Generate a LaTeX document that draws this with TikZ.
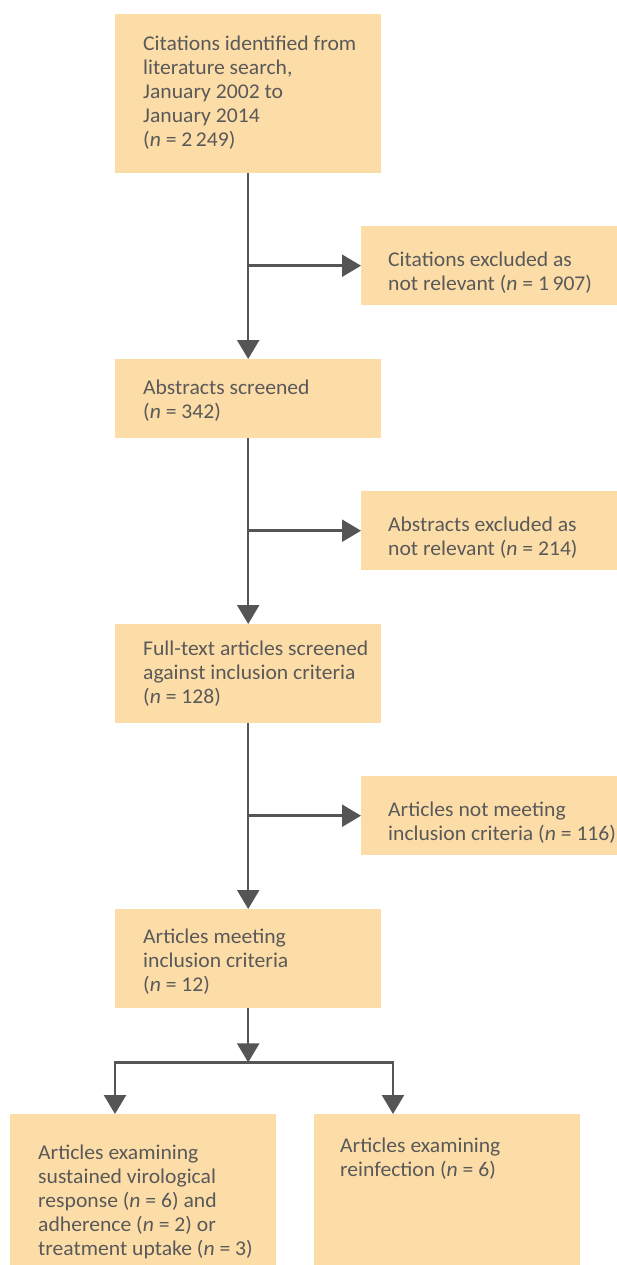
\documentclass[tikz,border=0pt]{standalone}
\usepackage{fontspec}
\setmainfont{Carlito}[FakeStretch=1.03]
\usetikzlibrary{arrows.meta}
\definecolor{boxfill}{RGB}{253,221,167}
\definecolor{arrowc}{RGB}{85,85,85}
\definecolor{txt}{RGB}{89,89,89}
\newcommand{\fl}{\rule{0pt}{16pt}}
\newcommand{\nn}{\textit{n}}
\begin{document}
\begin{tikzpicture}[x=1pt,y=-1pt,
  box/.style={fill=boxfill, draw=none, inner sep=0pt, anchor=north west},
  lbl/.style={anchor=north west, inner sep=0pt, align=left, text=txt, font=\fontsize{21}{24}\selectfont},
  link/.style={draw=arrowc, line width=2.5pt},
  arr/.style={link, -{Triangle[width=22pt,length=19pt]}}]
\useasboundingbox (0,0) rectangle (617,1265);
% boxes
\node[box, minimum width=266pt, minimum height=159pt] (top) at (115,14) {};
\node[box, minimum width=256pt, minimum height=79pt] (ex1) at (361,226) {};
\node[box, minimum width=266pt, minimum height=79pt] (abs) at (115,359) {};
\node[box, minimum width=256pt, minimum height=79pt] (ex2) at (361,491) {};
\node[box, minimum width=266pt, minimum height=99pt] (full) at (115,624) {};
\node[box, minimum width=256pt, minimum height=79pt] (ex3) at (361,776) {};
\node[box, minimum width=266pt, minimum height=99pt] (meet) at (115,909) {};
\node[box, minimum width=266pt, minimum height=151pt] (bl) at (10,1114) {};
\node[box, minimum width=266pt, minimum height=151pt] (br) at (314,1114) {};
% texts
\node[lbl] (ttop) at (143,34) {\fl Citations identified from\\literature search,\\January 2002 to\\January 2014\\(\nn{} = 2\,249)};
\node[lbl] (tex1) at (388,250) {\fl Citations excluded as\\not relevant (\nn{} = 1\,907)};
\node[lbl] (tabs) at (143,378) {\fl Abstracts screened\\(\nn{} = 342)};
\node[lbl] (tex2) at (388,515) {\fl Abstracts excluded as\\not relevant (\nn{} = 214)};
\node[lbl] (tfull) at (143,639) {\fl Full-text articles screened\\against inclusion criteria\\(\nn{} = 128)};
\node[lbl] (tex3) at (388,800) {\fl Articles not meeting\\inclusion criteria (\nn{} = 116)};
\node[lbl] (tmeet) at (143,927) {\fl Articles meeting\\inclusion criteria\\(\nn{} = 12)};
\node[lbl] (tbl) at (38,1143) {\fl Articles examining\\sustained virological\\response (\nn{} = 6) and\\adherence (\nn{} = 2) or\\treatment uptake (\nn{} = 3)};
\node[lbl] (tbr) at (340,1136) {\fl Articles examining\\reinfection (\nn{} = 6)};
% connectors
\draw[arr] (top.south) -- (abs.north);
\draw[arr] (top.south |- ex1.west) -- (ex1.west);
\draw[arr] (abs.south) -- (full.north);
\draw[arr] (abs.south |- ex2.west) -- (ex2.west);
\draw[arr] (full.south) -- (meet.north);
\draw[arr] (full.south |- ex3.west) -- (ex3.west);
\path (meet.south) ++(0,54) coordinate (jn);
\coordinate (blin) at ([xshift=105pt]bl.north west);
\coordinate (brin) at ([xshift=79pt]br.north west);
\draw[arr] (meet.south) -- (jn);
\draw[arr] (jn) -| (blin);
\draw[arr] (jn) -| (brin);
\end{tikzpicture}
\end{document}
